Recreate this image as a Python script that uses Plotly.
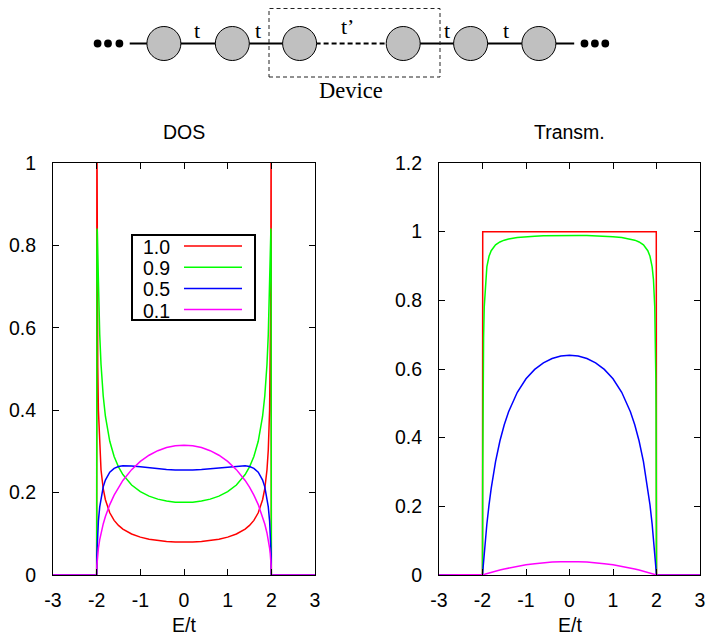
import plotly.graph_objects as go

W, H = 710, 637

# ---------------- data ----------------
E = [-3, -2.0, -1.995, -1.99, -1.985, -1.975, -1.96, -1.93, -1.9, -1.85, -1.8, -1.7, -1.6, -1.5,
     -1.4, -1.2, -1.0, -0.8, -0.6, -0.4, -0.2, 0.0, 0.2, 0.4, 0.6, 0.8, 1.0, 1.2, 1.4, 1.5, 1.6,
     1.7, 1.8, 1.85, 1.9, 1.93, 1.96, 1.975, 1.985, 1.99, 1.995, 2.0, 3]

SERIES_NAMES = ["1.0", "0.9", "0.5", "0.1"]
SERIES_COLORS = ["#ff0000", "#00ff00", "#0000ff", "#ff00ff"]

DOS_10 = [0, 0.0, 1.1261, 0.7968, 0.6510, 0.5049, 0.3999, 0.3034, 0.2549, 0.2094, 0.1826, 0.1511,
          0.1326, 0.1203, 0.1114, 0.0995, 0.0919, 0.0868, 0.0834, 0.0812, 0.0800, 0.0796, 0.0800,
          0.0812, 0.0834, 0.0868, 0.0919, 0.0995, 0.1114, 0.1203, 0.1326, 0.1511, 0.1826, 0.2094,
          0.2549, 0.3034, 0.3999, 0.5049, 0.6510, 0.7968, 1.1261, 0.0, 0]
DOS_09 = [0, 0.0, 0.7788, 0.8410, 0.8333, 0.7789, 0.6974, 0.5835, 0.5111, 0.4345, 0.3854, 0.3245,
          0.2875, 0.2622, 0.2437, 0.2185, 0.2023, 0.1915, 0.1842, 0.1794, 0.1767, 0.1759, 0.1767,
          0.1794, 0.1842, 0.1915, 0.2023, 0.2185, 0.2437, 0.2622, 0.2875, 0.3245, 0.3854, 0.4345,
          0.5111, 0.5835, 0.6974, 0.7789, 0.8333, 0.8410, 0.7788, 0.0, 0]
DOS_05 = [0, 0.0, 0.0496, 0.0694, 0.0842, 0.1068, 0.1315, 0.1653, 0.1882, 0.2139, 0.2305, 0.2495,
          0.2588, 0.2632, 0.2649, 0.2647, 0.2625, 0.2600, 0.2578, 0.2561, 0.2550, 0.2546, 0.2550,
          0.2561, 0.2578, 0.2600, 0.2625, 0.2647, 0.2649, 0.2632, 0.2588, 0.2495, 0.2305, 0.2139,
          0.1882, 0.1653, 0.1315, 0.1068, 0.0842, 0.0694, 0.0496, 0.0, 0]
DOS_01 = [0, 0.0, 0.0232, 0.0328, 0.0401, 0.0517, 0.0652, 0.0858, 0.1020, 0.1239, 0.1419, 0.1709,
          0.1940, 0.2132, 0.2295, 0.2557, 0.2756, 0.2907, 0.3017, 0.3093, 0.3137, 0.3152, 0.3137,
          0.3093, 0.3017, 0.2907, 0.2756, 0.2557, 0.2295, 0.2132, 0.1940, 0.1709, 0.1419, 0.1239,
          0.1020, 0.0858, 0.0652, 0.0517, 0.0401, 0.0328, 0.0232, 0.0, 0]

T_10 = [0, 0.0, 1.0, 1.0, 1.0, 1.0, 1.0, 1.0, 1.0, 1.0, 1.0, 1.0, 1.0, 1.0, 1.0, 1.0, 1.0, 1.0, 1.0,
        1.0, 1.0, 1.0, 1.0, 1.0, 1.0, 1.0, 1.0, 1.0, 1.0, 1.0, 1.0, 1.0, 1.0, 1.0, 1.0, 1.0, 1.0,
        1.0, 1.0, 1.0, 1.0, 0.0, 0]
T_09 = [0, 0.0, 0.3095, 0.4724, 0.5729, 0.6904, 0.7804, 0.8606, 0.8974, 0.9284, 0.9446, 0.9614,
        0.9700, 0.9752, 0.9786, 0.9829, 0.9854, 0.9869, 0.9879, 0.9885, 0.9889, 0.9890, 0.9889,
        0.9885, 0.9879, 0.9869, 0.9854, 0.9829, 0.9786, 0.9752, 0.9700, 0.9614, 0.9446, 0.9284,
        0.8974, 0.8606, 0.7804, 0.6904, 0.5729, 0.4724, 0.3095, 0.0, 0]
T_05 = [0, 0.0, 0.0088, 0.0174, 0.0259, 0.0423, 0.0658, 0.1090, 0.1477, 0.2042, 0.2525, 0.3304,
        0.3902, 0.4375, 0.4755, 0.5322, 0.5714, 0.5989, 0.6180, 0.6305, 0.6377, 0.6400, 0.6377,
        0.6305, 0.6180, 0.5989, 0.5714, 0.5322, 0.4755, 0.4375, 0.3902, 0.3304, 0.2525, 0.2042,
        0.1477, 0.1090, 0.0658, 0.0423, 0.0259, 0.0174, 0.0088, 0.0, 0]
T_01 = [0, 0.0, 0.0002, 0.0004, 0.0006, 0.0010, 0.0016, 0.0028, 0.0040, 0.0059, 0.0077, 0.0112,
        0.0145, 0.0175, 0.0204, 0.0255, 0.0297, 0.0331, 0.0358, 0.0377, 0.0388, 0.0392, 0.0388,
        0.0377, 0.0358, 0.0331, 0.0297, 0.0255, 0.0204, 0.0175, 0.0145, 0.0112, 0.0077, 0.0059,
        0.0040, 0.0028, 0.0016, 0.0010, 0.0006, 0.0004, 0.0002, 0.0, 0]

X_TICKS = [-3, -2, -1, 0, 1, 2, 3]
X_TICK_LABELS = ["-3", "-2", "-1", "0", "1", "2", "3"]
Y1_TICKS = [0, 0.2, 0.4, 0.6, 0.8, 1]
Y1_TICK_LABELS = ["0", "0.2", "0.4", "0.6", "0.8", "1"]
Y2_TICKS = [0, 0.2, 0.4, 0.6, 0.8, 1, 1.2]
Y2_TICK_LABELS = ["0", "0.2", "0.4", "0.6", "0.8", "1", "1.2"]

PANEL_TITLES = ["DOS", "Transm."]
X_TITLE = "E/t"
BOND_LABELS = ["t", "t", "t\u2019", "t", "t"]
DEVICE_LABEL = "Device"

DOS_SERIES = [DOS_10, DOS_09, DOS_05, DOS_01]
T_SERIES = [T_10, T_09, T_05, T_01]

# ---------------- layout helpers (pixel -> paper) ----------------
def px(x):
    return x / W


def py(y):
    return 1 - y / H


FONT = "Liberation Sans"
SERIF = "Liberation Serif"
FS = 19.5

L1, R1 = 53, 315
L2, R2 = 439, 700
TOP, BOT = 163, 575

fig = go.Figure()

for name, col, ys in zip(SERIES_NAMES, SERIES_COLORS, DOS_SERIES):
    fig.add_trace(go.Scatter(x=E, y=ys, mode="lines", name=name, showlegend=False,
                             line=dict(color=col, width=1.5), xaxis="x", yaxis="y"))
for name, col, ys in zip(SERIES_NAMES, SERIES_COLORS, T_SERIES):
    fig.add_trace(go.Scatter(x=E, y=ys, mode="lines", name=name, showlegend=False,
                             line=dict(color=col, width=1.5), xaxis="x2", yaxis="y2"))

axis_common = dict(showgrid=False, zeroline=False, showline=True, linecolor="black",
                   linewidth=1, mirror="ticks", ticks="inside", ticklen=6, tickwidth=1,
                   tickcolor="black", automargin=False,
                   tickfont=dict(family=FONT, size=FS, color="black"))

fig.update_layout(
    width=W, height=H,
    margin=dict(l=0, r=0, t=0, b=0, autoexpand=False),
    paper_bgcolor="white", plot_bgcolor="white",
    font=dict(family=FONT, size=FS, color="black"),
    xaxis=dict(domain=[px(L1), px(R1)], range=[-3, 3], tickvals=X_TICKS,
               ticktext=X_TICK_LABELS, anchor="y", ticklabelstandoff=8, **axis_common),
    yaxis=dict(domain=[py(BOT), py(TOP)], range=[0, 1], tickvals=Y1_TICKS,
               ticktext=Y1_TICK_LABELS, anchor="x", ticklabelstandoff=12, **axis_common),
    xaxis2=dict(domain=[px(L2), px(R2)], range=[-3, 3], tickvals=X_TICKS,
                ticktext=X_TICK_LABELS, anchor="y2", ticklabelstandoff=8, **axis_common),
    yaxis2=dict(domain=[py(BOT), py(TOP)], range=[0, 1.2], tickvals=Y2_TICKS,
                ticktext=Y2_TICK_LABELS, anchor="x2", ticklabelstandoff=12, **axis_common),
)

annotations = []
shapes = []

# panel titles and axis titles
for title, (l, r) in zip(PANEL_TITLES, [(L1, R1), (L2, R2)]):
    annotations.append(dict(text=title, x=px((l + r) / 2), y=py(132), xref="paper", yref="paper",
                            showarrow=False, xanchor="center", yanchor="middle",
                            font=dict(family=FONT, size=FS, color="black")))
    annotations.append(dict(text=X_TITLE, x=px((l + r) / 2), y=0.0, xref="paper", yref="paper",
                            showarrow=False, xanchor="center", yanchor="bottom",
                            borderpad=0, font=dict(family=FONT, size=FS, color="black")))

# custom gnuplot-style legend (text left, line sample right)
shapes.append(dict(type="rect", xref="paper", yref="paper", x0=px(132), x1=px(255),
                   y0=py(320), y1=py(235), line=dict(color="black", width=2),
                   fillcolor="white", layer="above"))
for i, (name, col) in enumerate(zip(SERIES_NAMES, SERIES_COLORS)):
    yc = 247 + i * 21.2
    annotations.append(dict(text=name, x=px(141), y=py(yc), xref="paper", yref="paper",
                            showarrow=False, xanchor="left", yanchor="middle",
                            font=dict(family=FONT, size=FS, color="black")))
    shapes.append(dict(type="line", xref="paper", yref="paper", x0=px(184), x1=px(242),
                       y0=py(yc - 1), y1=py(yc - 1), line=dict(color=col, width=1.5), layer="above"))

# ---------------- schematic ----------------
SITE_X = [163.9, 232.3, 299.6, 403.2, 470.6, 538.9]
CHAIN_Y = 43.5
SITE_R = 17
DOT_X = [97.6, 108, 119.4, 584.5, 594.9, 605.3]
BOND_X = [197, 258.2, 347.3, 446.7, 505.8]
BOND_Y = [31, 31, 27, 31, 31]

shapes.append(dict(type="line", xref="paper", yref="paper", x0=px(129.7), x1=px(SITE_X[2]),
                   y0=py(CHAIN_Y), y1=py(CHAIN_Y), line=dict(color="black", width=2)))
shapes.append(dict(type="line", xref="paper", yref="paper", x0=px(SITE_X[3]), x1=px(574.2),
                   y0=py(CHAIN_Y), y1=py(CHAIN_Y), line=dict(color="black", width=2)))
shapes.append(dict(type="line", xref="paper", yref="paper", x0=px(SITE_X[2]), x1=px(SITE_X[3]),
                   y0=py(CHAIN_Y), y1=py(CHAIN_Y),
                   line=dict(color="black", width=2, dash="5px,3px")))
for sx in SITE_X:
    shapes.append(dict(type="circle", xref="paper", yref="paper",
                       x0=px(sx - SITE_R), x1=px(sx + SITE_R),
                       y0=py(CHAIN_Y + SITE_R), y1=py(CHAIN_Y - SITE_R),
                       fillcolor="#c0c0c0", line=dict(color="black", width=1)))
for dx in DOT_X:
    shapes.append(dict(type="circle", xref="paper", yref="paper",
                       x0=px(dx - 3.9), x1=px(dx + 3.9),
                       y0=py(CHAIN_Y + 3.9), y1=py(CHAIN_Y - 3.9),
                       fillcolor="black", line=dict(color="black", width=0)))
shapes.append(dict(type="rect", xref="paper", yref="paper", x0=px(269), x1=px(440),
                   y0=py(77), y1=py(8.5),
                   line=dict(color="#222222", width=1, dash="4px,3px")))
for lab, bx, by in zip(BOND_LABELS, BOND_X, BOND_Y):
    annotations.append(dict(text=lab, x=px(bx), y=py(by), xref="paper", yref="paper",
                            showarrow=False, xanchor="center", yanchor="middle",
                            font=dict(family=SERIF, size=22, color="black")))
annotations.append(dict(text=DEVICE_LABEL, x=px(350.5), y=py(91), xref="paper", yref="paper",
                        showarrow=False, xanchor="center", yanchor="middle",
                        font=dict(family=SERIF, size=22.5, color="black")))

fig.update_layout(annotations=annotations, shapes=shapes)
fig.write_html("out.html")
